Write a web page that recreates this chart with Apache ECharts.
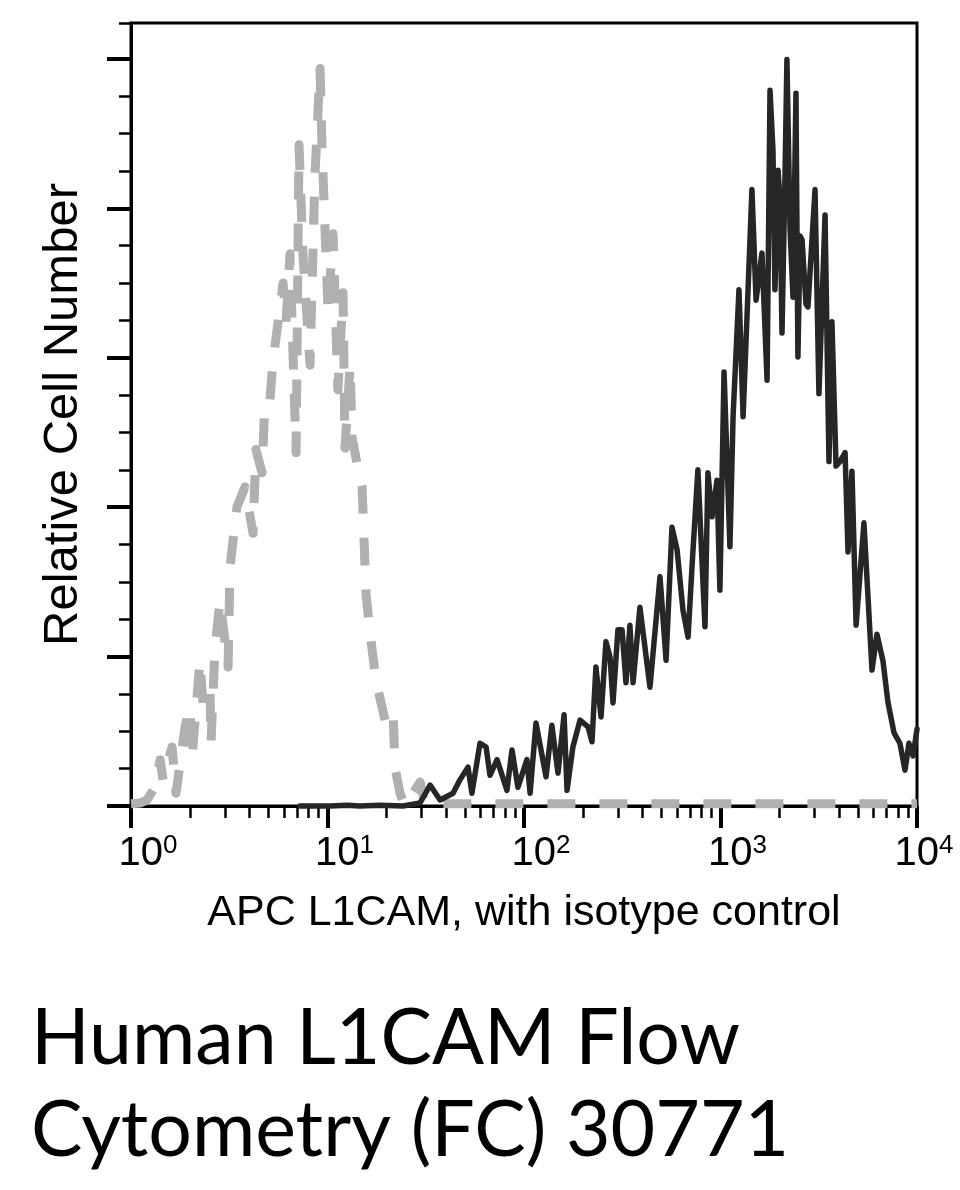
<!DOCTYPE html>
<html><head><meta charset="utf-8">
<script src="https://cdn.jsdelivr.net/npm/echarts@6/dist/echarts.min.js"></script>
<style>html,body{margin:0;padding:0;background:#fff}#c{width:960px;height:1190px}</style>
</head><body><div id="c"></div>
<script>
// x values are log10(fluorescence) (decades), y values are relative cell number
const decadeExponents = ['0', '1', '2', '3', '4'];
const yMajorTicks = [0, 20, 40, 60, 80, 100];
const yMinorTicks = [5, 10, 15, 25, 30, 35, 45, 50, 55, 65, 70, 75, 85, 90, 95, 104.8];
const yMax = 104.8;

const l1camX = [0.860,1.013,1.099,1.165,1.267,1.384,1.471,1.522,1.573,1.639,1.674,1.715,1.735,1.776,1.807,1.827,1.863,1.913,1.939,1.969,2.015,2.031,2.061,2.112,2.142,2.173,2.204,2.219,2.249,2.285,2.326,2.346,2.366,2.392,2.417,2.438,2.453,2.478,2.499,2.519,2.539,2.555,2.590,2.641,2.692,2.723,2.753,2.779,2.809,2.835,2.855,2.885,2.921,2.936,2.957,2.982,2.997,3.018,3.048,3.064,3.094,3.115,3.160,3.181,3.211,3.237,3.252,3.267,3.277,3.293,3.303,3.313,3.328,3.338,3.354,3.369,3.384,3.394,3.405,3.415,3.435,3.445,3.481,3.501,3.532,3.552,3.567,3.588,3.608,3.634,3.649,3.669,3.690,3.730,3.751,3.771,3.796,3.827,3.852,3.883,3.913,3.939,3.959,3.980,4.000];
const l1camY = [0,0,0.1,0,0.1,0,0.4,2.8,0.8,1.7,3.5,5.2,1.7,8.4,7.9,4.1,6.2,2.1,7.5,2.5,6.2,1.7,11.1,3.9,10.8,4.4,12.2,2.1,7.9,11.5,10.6,8.6,18.6,11.9,22.0,19.9,13.8,23.6,23.6,16.5,24.2,16.5,26.6,15.9,30.7,19.5,37.3,34.3,26.2,22.6,32.0,45.0,24.0,44.6,38.7,43.6,28.9,58.1,34.7,52.1,69.1,52.1,82.5,67.7,74.0,57.0,95.8,87.8,69.1,85.1,81.1,63.3,83.8,99.9,77.1,68.1,95.4,60.1,76.3,75.8,67.2,66.8,82.5,55.2,79.1,46.1,64.8,45.5,46.1,47.3,34.0,44.8,24.2,37.9,27.8,18.2,23.0,19.4,13.9,9.8,8.4,4.8,8.4,6.7,10.3];

const isotypeX = [0,0.046,0.081,0.122,0.148,0.163,0.209,0.229,0.275,0.300,0.310,0.351,0.366,0.402,0.407,0.427,0.453,0.494,0.504,0.539,0.580,0.621,0.636,0.667,0.682,0.707,0.723,0.733,0.774,0.789,0.809,0.840,0.855,0.875,0.911,0.936,0.962,0.972,1.003,1.028,1.053,1.079,1.089,1.115,1.125,1.150,1.176,1.186,1.196,1.216,1.247,1.293,1.333,1.344,1.369,1.394,1.430,1.471,1.496,2.0,3.0,4.0];
const isotypeY = [0.3,0.4,0.8,2.5,6.2,3.5,7.9,1.7,10.6,13.3,6.2,19.5,13.8,15.9,8.4,20.9,27.6,18.6,32.0,40.0,42.7,36.5,47.7,44.6,54.4,54.4,59.6,59.7,70.0,64.8,73.9,47.3,88.5,73.9,59.0,84.3,98.7,88.2,66.1,76.6,55.7,68.7,47.9,59.0,49.3,45.9,42.7,35.6,28.4,23.3,16.7,11.5,12.9,5.1,1.7,0,1.5,3.2,0.3,0.3,0.3,0.3];

const xMinorTicks = [];
for (let d = 0; d < 4; d++) for (let k = 2; k <= 9; k++) xMinorTicks.push(d + Math.log10(k));

const FONT = 'Liberation Sans';
const chart = echarts.init(document.getElementById('c'), null, {renderer: 'canvas'});
chart.setOption({
  animation: false,
  backgroundColor: '#fff',
  title: {
    text: 'Human L1CAM Flow\nCytometry (FC) 30771',
    left: 26, top: 988,
    textStyle: {fontFamily: 'Lato', fontWeight: 'normal', fontSize: 77, lineHeight: 92, color: '#000'}
  },
  grid: {left: 131, right: 43, top: 23, bottom: 384, show: true, borderColor: '#000', borderWidth: 3},
  xAxis: [
    {
      type: 'value', min: 0, max: 4, interval: 1, position: 'bottom',
      axisLine: {show: true, lineStyle: {color: '#000', width: 3}},
      axisTick: {show: true, length: 22, lineStyle: {color: '#000', width: 4}},
      splitLine: {show: false},
      axisLabel: {
        margin: 27,
        formatter: v => (Math.round(v) === 4 ? '{e|10}' : '{b|10}') + '{s|' + decadeExponents[Math.round(v)] + '}',
        rich: {
          b: {fontFamily: FONT, fontSize: 40, lineHeight: 42, color: '#000', padding: [0, 0, 0, 34]},
          e: {fontFamily: FONT, fontSize: 40, lineHeight: 42, color: '#000', padding: [0, 0, 0, 14]},
          s: {fontFamily: FONT, fontSize: 26, lineHeight: 26, verticalAlign: 'top', color: '#000'}
        }
      },
      name: 'APC L1CAM, with isotype control',
      nameLocation: 'middle', nameGap: 86,
      nameTextStyle: {fontFamily: FONT, fontSize: 43, color: '#000'}
    },
    {
      type: 'value', min: 0, max: 4, position: 'bottom',
      axisLine: {show: false},
      axisTick: {show: true, customValues: xMinorTicks, length: 12, lineStyle: {color: '#000', width: 2.5}},
      axisLabel: {show: false}, splitLine: {show: false}
    }
  ],
  yAxis: [
    {
      type: 'value', min: 0, max: yMax, position: 'left',
      axisLine: {show: true, lineStyle: {color: '#000', width: 3}},
      axisTick: {show: true, customValues: yMajorTicks, length: 24, lineStyle: {color: '#000', width: 4}},
      axisLabel: {show: false}, splitLine: {show: false},
      name: 'Relative Cell Number', nameLocation: 'middle', nameGap: 43,
      nameTextStyle: {fontFamily: FONT, fontSize: 49, color: '#000'}
    },
    {
      type: 'value', min: 0, max: yMax, position: 'left',
      axisLine: {show: false},
      axisTick: {show: true, customValues: yMinorTicks, length: 12, lineStyle: {color: '#000', width: 2.5}},
      axisLabel: {show: false}, splitLine: {show: false}
    }
  ],
  series: [
    {
      name: 'Isotype control', type: 'line', xAxisIndex: 0, yAxisIndex: 0,
      data: isotypeX.map((x, i) => [x, isotypeY[i]]),
      showSymbol: false, clip: false, z: 2,
      lineStyle: {color: '#b0b0b0', width: 9, type: [28, 24], cap: 'butt', join: 'round'}
    },
    {
      name: 'APC L1CAM', type: 'line', xAxisIndex: 0, yAxisIndex: 0,
      data: l1camX.map((x, i) => [x, l1camY[i]]),
      showSymbol: false, clip: false, z: 3,
      lineStyle: {color: '#262626', width: 5.5, cap: 'round', join: 'round'}
    }
  ]
});
</script></body></html>
